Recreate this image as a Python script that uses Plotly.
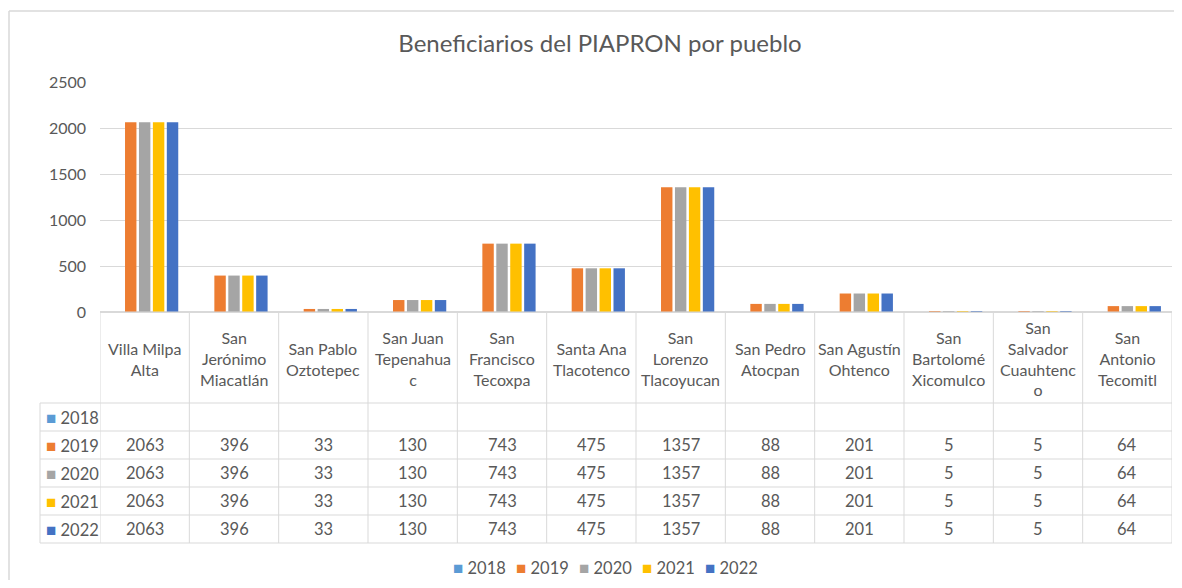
import plotly.graph_objects as go

# ---------------- data ----------------
pueblos = ["Villa Milpa Alta", "San Jerónimo Miacatlán", "San Pablo Oztotepec",
           "San Juan Tepenahuac", "San Francisco Tecoxpa", "Santa Ana Tlacotenco",
           "San Lorenzo Tlacoyucan", "San Pedro Atocpan", "San Agustín Ohtenco",
           "San Bartolomé Xicomulco", "San Salvador Cuauhtenco", "San Antonio Tecomitl"]
header_labels = ["Villa Milpa<br>Alta", "San<br>Jerónimo<br>Miacatlán", "San Pablo<br>Oztotepec",
                 "San Juan<br>Tepenahua<br>c", "San<br>Francisco<br>Tecoxpa", "Santa Ana<br>Tlacotenco",
                 "San<br>Lorenzo<br>Tlacoyucan", "San Pedro<br>Atocpan", "San Agustín<br>Ohtenco",
                 "San<br>Bartolomé<br>Xicomulco", "San<br>Salvador<br>Cuauhtenc<br>o", "San<br>Antonio<br>Tecomitl"]
years = ["2018", "2019", "2020", "2021", "2022"]
v2018 = [None, None, None, None, None, None, None, None, None, None, None, None]
v2019 = [2063, 396, 33, 130, 743, 475, 1357, 88, 201, 5, 5, 64]
v2020 = [2063, 396, 33, 130, 743, 475, 1357, 88, 201, 5, 5, 64]
v2021 = [2063, 396, 33, 130, 743, 475, 1357, 88, 201, 5, 5, 64]
v2022 = [2063, 396, 33, 130, 743, 475, 1357, 88, 201, 5, 5, 64]
series = [v2018, v2019, v2020, v2021, v2022]
colors = ["#5b9bd5", "#ed7d31", "#a5a5a5", "#ffc000", "#4472c4"]
y_ticks = [0, 500, 1000, 1500, 2000, 2500]

# ---------------- layout geometry (screen pixels) ----------------
OFF = 8                      # default body margin of the page
W, H = 1182 - 2 * OFF, 588 - 2 * OFF
ML, MT = 100 - OFF, 82 - OFF
PLOT_RIGHT = 1172
MR = W - (PLOT_RIGHT - OFF)
PLOT_BOTTOM = 312
MB = H - (PLOT_BOTTOM - OFF)
PW, PH = W - ML - MR, H - MT - MB
FONT = "Lato, 'Open Sans', sans-serif"
TXT = "#595959"
GRID = "#d9d9d9"


def px_y(py):
    return (PLOT_BOTTOM - py) / PH


def px_x(px):
    return (px - OFF - ML) / PW


fig = go.Figure()
for name, vals, col in zip(years, series, colors):
    fig.add_trace(go.Bar(x=pueblos, y=vals, name=name, showlegend=False,
                         marker=dict(color=col, line=dict(width=0))))

shapes = []
annotations = []

# outer chart frame (top and left edges; the others are outside the view)
shapes.append(dict(type="line", xref="paper", yref="paper", x0=px_x(9), x1=px_x(1182),
                   y0=px_y(11), y1=px_y(11), line=dict(color=GRID, width=1.5), layer="below"))
shapes.append(dict(type="line", xref="paper", yref="paper", x0=px_x(9), x1=px_x(9),
                   y0=px_y(11), y1=px_y(600), line=dict(color=GRID, width=1.5), layer="below"))

# table geometry (pixel rows)
row_edges = [403, 431, 459, 487, 515, 543]
header_top, header_bottom = PLOT_BOTTOM, 403
n = len(pueblos)

shapes.append(dict(type="line", xref="x", yref="paper", x0=-0.5, x1=n - 0.5,
                   y0=px_y(header_top), y1=px_y(header_top), line=dict(color=GRID, width=1)))
for r in row_edges:
    shapes.append(dict(type="line", xref="paper", yref="paper", x0=px_x(40), x1=1,
                       y0=px_y(r), y1=px_y(r), line=dict(color=GRID, width=1)))
for i in range(n + 1):
    shapes.append(dict(type="line", xref="x", yref="paper", x0=i - 0.5, x1=i - 0.5,
                       y0=px_y(header_top), y1=px_y(row_edges[-1]), line=dict(color=GRID, width=1)))
shapes.append(dict(type="line", xref="paper", yref="paper", x0=px_x(40), x1=px_x(40),
                   y0=px_y(row_edges[0]), y1=px_y(row_edges[-1]), line=dict(color=GRID, width=1)))

# header labels
for p, lab in zip(pueblos, header_labels):
    annotations.append(dict(x=p, xref="x", yref="paper", y=px_y((header_top + header_bottom) / 2 + 1),
                            text=lab, showarrow=False, xanchor="center", yanchor="middle",
                            font=dict(family=FONT, size=16, color=TXT)))

# rows
for k, (name, vals, col) in enumerate(zip(years, series, colors)):
    yc = px_y((row_edges[k] + row_edges[k + 1]) / 2)
    annotations.append(dict(x=px_x(44), xref="paper", yref="paper", y=yc, xanchor="left",
                            yanchor="middle", showarrow=False,
                            text=f'<span style="color:{col};font-size:17px">■</span> {name}',
                            font=dict(family=FONT, size=16.5, color=TXT)))
    for p, v in zip(pueblos, vals):
        annotations.append(dict(x=p, xref="x", yref="paper", y=yc, xanchor="center",
                                yanchor="middle", showarrow=False,
                                text="" if v is None else str(v),
                                font=dict(family=FONT, size=16.5, color=TXT)))

# bottom legend
for k, (name, col) in enumerate(zip(years, colors)):
    annotations.append(dict(x=px_x(451 + 63 * k), xref="paper", yref="paper", y=px_y(567),
                            xanchor="left", yanchor="middle", showarrow=False,
                            text=f'<span style="color:{col};font-size:17px">■</span> {name}',
                            font=dict(family=FONT, size=16.5, color=TXT)))

fig.update_layout(
    width=W, height=H,
    margin=dict(l=ML, r=MR, t=MT, b=MB, pad=0),
    paper_bgcolor="white", plot_bgcolor="white",
    font=dict(family=FONT, size=16, color=TXT),
    title=dict(text="Beneficiarios del PIAPRON por pueblo", x=(600 - OFF) / W, xanchor="center",
               y=1 - (44 - OFF) / H, yanchor="middle", font=dict(family=FONT, size=24, color=TXT)),
    barmode="group", bargap=0.22, bargroupgap=0.18,
    showlegend=False,
    xaxis=dict(showticklabels=False, showgrid=False, zeroline=False, showline=False,
               range=[-0.5, n - 0.5], fixedrange=True),
    yaxis=dict(range=[0, 2500], tickvals=y_ticks, showgrid=True, gridcolor=GRID, gridwidth=1,
               zeroline=True, zerolinecolor=GRID, showline=False, ticks="",
               ticklabelstandoff=13, tickfont=dict(family=FONT, size=16, color=TXT)),
    shapes=shapes, annotations=annotations,
)

fig.write_html("out.html")
